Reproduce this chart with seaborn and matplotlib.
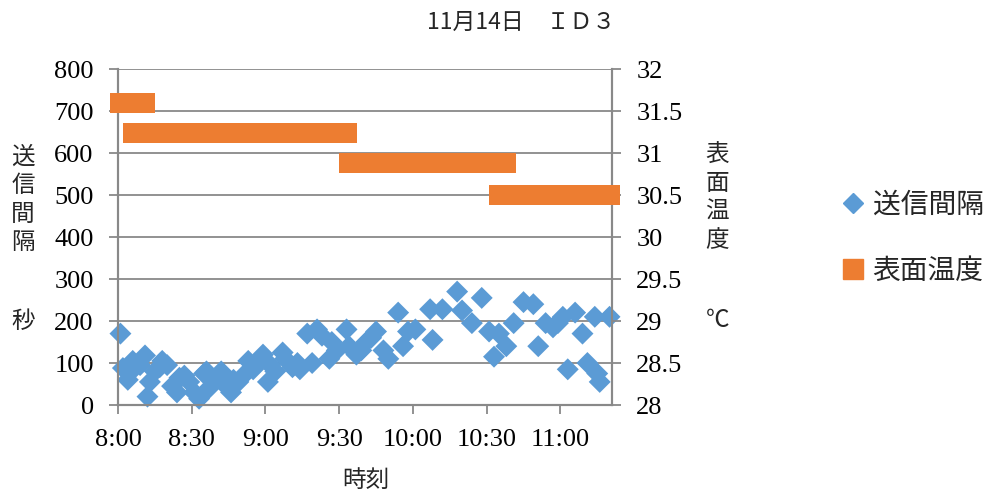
import numpy as np
import pandas as pd
import matplotlib
matplotlib.use("Agg")
import matplotlib.pyplot as plt
from matplotlib.lines import Line2D
import seaborn as sns

# 送信時刻 (HH:MM)
jikoku = ["8:01", "8:02", "8:04", "8:05", "8:06", "8:09", "8:11", "8:12", "8:13", "8:15",
          "8:17", "8:18", "8:20", "8:22", "8:24", "8:25", "8:27", "8:29", "8:31", "8:33",
          "8:35", "8:36", "8:37", "8:40", "8:42", "8:44", "8:46", "8:47", "8:49", "8:51",
          "8:53", "8:55", "8:56", "8:59", "9:01", "9:02", "9:04", "9:07", "9:08", "9:11",
          "9:13", "9:14", "9:17", "9:19", "9:21", "9:23", "9:26", "9:27", "9:29", "9:33",
          "9:34", "9:37", "9:39", "9:41", "9:43", "9:45", "9:48", "9:50", "9:54", "9:56",
          "9:58", "10:01", "10:07", "10:08", "10:12", "10:18", "10:20", "10:24", "10:28", "10:31",
          "10:33", "10:35", "10:38", "10:41", "10:45", "10:49", "10:51", "10:54", "10:57", "10:59",
          "11:01", "11:03", "11:06", "11:09", "11:11", "11:14", "11:15", "11:16", "11:20"]

# 送信間隔 (秒)
soshin_kankaku = [170, 88, 60, 78, 105, 95, 118, 20, 55, 80,
                  90, 105, 95, 45, 30, 65, 70, 55, 30, 15,
                  75, 80, 40, 60, 80, 45, 30, 60, 55, 70,
                  105, 85, 95, 120, 55, 95, 80, 125, 110, 90,
                  100, 85, 170, 100, 180, 165, 110, 150, 130, 180,
                  140, 120, 130, 150, 160, 175, 130, 110, 220, 140,
                  175, 180, 228, 155, 228, 270, 225, 195, 255, 175,
                  115, 170, 140, 195, 245, 240, 140, 195, 185, 195,
                  210, 85, 220, 170, 100, 210, 75, 55, 210]

# 表面温度 (℃)
hyomen_ondo = [31.6, 31.6, 31.6, 31.6, 31.24, 31.6, 31.6, 31.24, 31.24, 31.24,
               31.24, 31.24, 31.24, 31.24, 31.24, 31.24, 31.24, 31.24, 31.24, 31.24,
               31.24, 31.24, 31.24, 31.24, 31.24, 31.24, 31.24, 31.24, 31.24, 31.24,
               31.24, 31.24, 31.24, 31.24, 31.24, 31.24, 31.24, 31.24, 31.24, 31.24,
               31.24, 31.24, 31.24, 31.24, 31.24, 31.24, 31.24, 31.24, 31.24, 31.24,
               30.88, 30.88, 30.88, 30.88, 30.88, 30.88, 30.88, 30.88, 30.88, 30.88,
               30.88, 30.88, 30.88, 30.88, 30.88, 30.88, 30.88, 30.88, 30.88, 30.88,
               30.88, 30.5, 30.88, 30.5, 30.5, 30.5, 30.5, 30.5, 30.5, 30.5,
               30.5, 30.5, 30.5, 30.5, 30.5, 30.5, 30.5, 30.5, 30.5]

x_ticks = ["8:00", "8:30", "9:00", "9:30", "10:00", "10:30", "11:00"]


def to_hours(s):
    h, m = s.split(":")
    return int(h) + int(m) / 60


df = pd.DataFrame({"時刻": [to_hours(t) for t in jikoku],
                   "送信間隔": soshin_kankaku,
                   "表面温度": hyomen_ondo})

sns.set_style("white")
plt.rcParams["font.family"] = ["Liberation Serif", "DejaVu Sans"]
jp = ["Noto Sans CJK JP", "DejaVu Sans"]

blue = "#5B9BD5"
orange = "#ED7D31"
gray = "#898989"

fig = plt.figure(figsize=(9.99, 4.95), dpi=100)
ax = fig.add_axes([0.1181, 0.1818, 0.4945, 0.6788])
ax2 = ax.twinx()

ax.set_ylim(0, 800)
ax.set_yticks(range(0, 801, 100))
ax2.set_ylim(28, 32)
ax2.set_yticks(np.arange(28, 32.01, 0.5))
ax2.set_yticklabels(["28", "28.5", "29", "29.5", "30", "30.5", "31", "31.5", "32"])
ax.set_xlim(8, 11.35)
ax.set_xticks([to_hours(t) for t in x_ticks])
ax.set_xticklabels(x_ticks)

ax.yaxis.grid(True, color=gray, linewidth=1.3)
ax.set_axisbelow(True)

sns.scatterplot(data=df, x="時刻", y="送信間隔", ax=ax, marker="D", s=125,
                color=blue, edgecolor="none", legend=False, zorder=3, clip_on=False)
sns.scatterplot(data=df, x="時刻", y="表面温度", ax=ax2, marker="s", s=207,
                color=orange, edgecolor="none", legend=False, zorder=3, clip_on=False)

for a in (ax, ax2):
    a.set_xlabel("")
    a.set_ylabel("")
    for sp in a.spines.values():
        sp.set_color(gray)
        sp.set_linewidth(1.5)
    a.spines["top"].set_visible(False)
    a.tick_params(axis="both", colors=gray, labelcolor="black", labelsize=19,
                  length=6.5, width=1.3, pad=11, direction="out")
    for lbl in a.get_xticklabels() + a.get_yticklabels():
        lbl.set_fontfamily(["Liberation Serif", "DejaVu Sans"])
ax.tick_params(axis="x", bottom=True)
ax2.tick_params(axis="y", right=True)

fig.text(0.522, 0.955, "11月14日　ＩＤ３", ha="center", va="center",
         fontsize=16.5, family=jp)
fig.text(0.366, 0.03, "時刻", ha="center", va="center", fontsize=17, family=jp)
fig.text(0.023, 0.596, "送\n信\n間\n隔", ha="center", va="center",
         fontsize=17, family=jp, linespacing=1.3)
fig.text(0.023, 0.35, "秒", ha="center", va="center", fontsize=17, family=jp)
fig.text(0.718, 0.6, "表\n面\n温\n度", ha="center", va="center",
         fontsize=17, family=jp, linespacing=1.3)
fig.text(0.718, 0.353, "℃", ha="center", va="center", fontsize=17, family=jp)

handles = [Line2D([], [], marker="D", color=blue, linestyle="none", markersize=10),
           Line2D([], [], marker="s", color=orange, linestyle="none", markersize=14)]
fig.legend(handles, ["送信間隔", "表面温度"], loc="center left",
           bbox_to_anchor=(0.815, 0.52), frameon=False, handletextpad=0.2,
           labelspacing=1.3, handlelength=1.0, prop={"family": jp, "size": 20})

fig.savefig("out.png", dpi=100)
